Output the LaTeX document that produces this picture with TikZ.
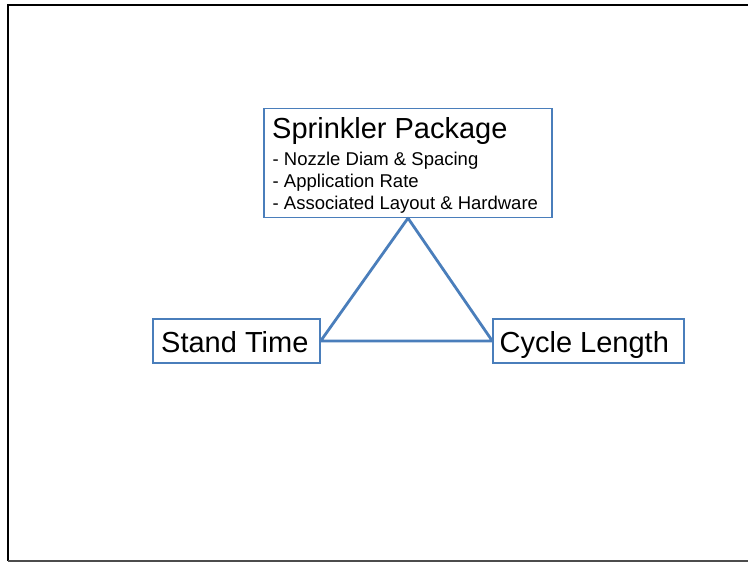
\documentclass[tikz,border=0pt]{standalone}
\usepackage{fontspec}
\setmainfont{Liberation Sans}
\definecolor{boxblue}{RGB}{74,126,187}
\begin{document}
\begin{tikzpicture}[x=1pt,y=-1pt,
  frame/.style={line width=2pt,black},
  boxframe/.style={draw=boxblue,line width=1.3pt,rectangle,inner sep=0pt},
  edgeline/.style={draw=boxblue,line width=2.8pt,line join=round},
  bigtext/.style={inner sep=0pt,anchor=base west,font=\fontsize{29}{34}\selectfont},
  smalltext/.style={inner sep=0pt,anchor=base west,font=\fontsize{18.5}{22}\selectfont}]
\useasboundingbox (0,0) rectangle (748,562);
% frame
\draw[frame] (8,561) -- (8,4.5) -- (760,4.5);
\draw[line width=1.3pt,black!70] (8,561) -- (760,561);
% boxes
\node[boxframe,minimum width=288pt,minimum height=109pt] (pkg) at (408,163) {};
\node[boxframe,minimum width=167pt,minimum height=44pt] (stand) at (236.5,341) {};
\node[boxframe,minimum width=191pt,minimum height=44pt] (cycle) at (588.5,341) {};
% texts
\node[bigtext] (pkgtitle) at (272,138) {Sprinkler Package};
\node[smalltext] (l1) at (272.5,165) {- Nozzle Diam \& Spacing};
\node[smalltext] (l2) at (272.5,187) {- Application Rate};
\node[smalltext] (l3) at (272.5,209) {- Associated Layout \& Hardware};
\node[bigtext] (standtext) at (161,352) {Stand Time};
\node[bigtext] (cycletext) at (499.5,352) {Cycle Length};
% triangle
\draw[edgeline] (stand.east) -- (pkg.south) -- (cycle.west) -- cycle;
\end{tikzpicture}
\end{document}
